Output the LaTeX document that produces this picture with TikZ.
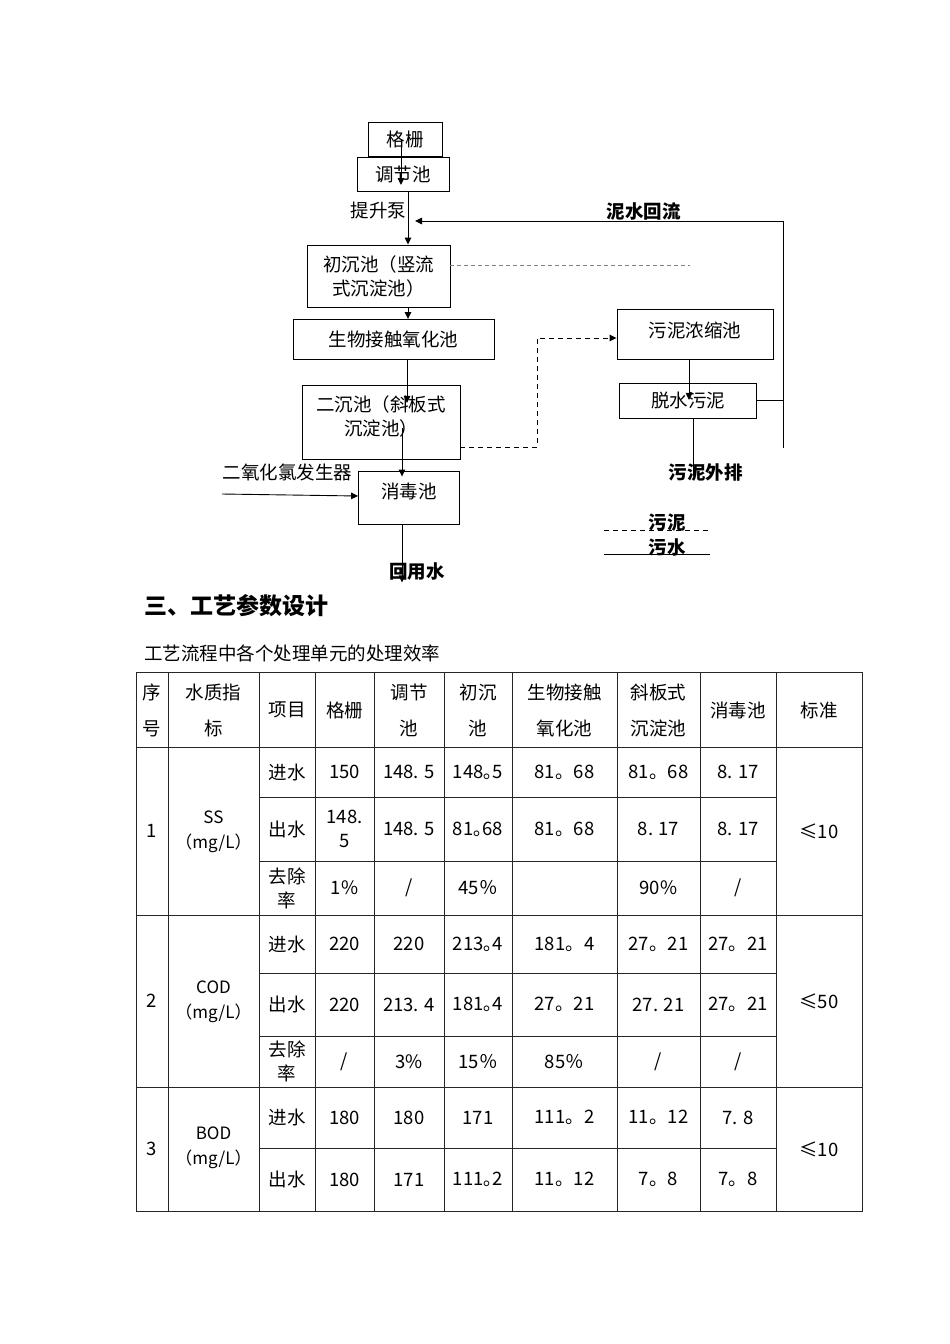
\documentclass[tikz,border=0pt]{standalone}
\usepackage{fontspec}
\setmainfont{Noto Sans CJK SC}
\usetikzlibrary{arrows.meta}

\tikzset{
  every node/.style={font=\fontsize{18.5}{24}\selectfont, inner sep=0pt},
  box/.style={draw, line width=0.9pt},
  arr/.style={line width=0.9pt, -{Triangle[length=7pt,width=6.5pt]}},
  gdash/.style={draw=gray, line width=0.9pt, dash pattern=on 4pt off 3pt},
  bdash/.style={line width=1.1pt, dash pattern=on 5pt off 4pt},
  lbl/.style={font=\bfseries\fontsize{18.5}{24}\selectfont},
  tline/.style={draw=black!85, line width=0.9pt},
  cell/.style={align=center},
  hcell/.style={align=center, font=\fontsize{18.5}{36}\selectfont},
  qcell/.style={align=center, font=\fontsize{17}{25}\selectfont}
}

\begin{document}
\begin{tikzpicture}[x=1pt,y=-1pt]
\useasboundingbox (0,0) rectangle (950,1344);

% process boxes
\node[box, minimum width=74pt, minimum height=34pt] (gs) at (405,139) {格栅};
\node[box, minimum width=92pt, minimum height=34pt] (tj) at (403,174) {调节池};
\node[box, cell, minimum width=143pt, minimum height=62pt] (cc) at (378.5,276) {初沉池（竖流\\式沉淀池）};
\node[box, minimum width=201pt, minimum height=40pt] (sw) at (393.5,339.5) {生物接触氧化池};
\node[box, minimum width=158pt, minimum height=74pt,
      label={[cell, yshift=6pt]center:二沉池（斜板式\\沉淀池）}] (ec) at (381,422) {};
\node[box, minimum width=101pt, minimum height=53pt,
      label={[yshift=6pt]center:消毒池}] (xd) at (409,497.5) {};
\node[box, minimum width=156pt, minimum height=50pt,
      label={[yshift=4pt]center:污泥浓缩池}] (nn) at (695,334.5) {};
\node[box, minimum width=137pt, minimum height=35pt] (dw) at (688,400.5) {脱水污泥};

% labels
\node (tsb) at (378.5,210) {提升泵};
\node[lbl] (nshl) at (643.5,211) {泥水回流};
\node (eyl) at (287.5,472) {二氧化氯发生器};
\node[lbl] (hys) at (417,572) {回用水};
\node[lbl] (wnpc) at (705.5,472) {污泥外排};

% main line
\draw[arr] ([xshift=-4pt]gs.center) -- ([xshift=-2pt,yshift=-11pt]tj.center);
\draw[arr] ([xshift=5pt]tj.south) -- ([xshift=5pt]tj.south |- cc.north);
\draw[arr] ([xshift=29.5pt]cc.south) -- ([xshift=29.5pt]cc.south |- sw.north);
\draw[arr] ([xshift=13.5pt]sw.south) -- ++(0,43);
\draw[arr] ([xshift=21pt,yshift=-6pt]ec.center) -- ([xshift=21pt,yshift=-6pt]ec.center |- xd.north);
\coordinate (eyl-in) at (222,494);
\draw[arr] (eyl-in) -- ([yshift=1.5pt]xd.west);
\draw[arr] ([xshift=-7pt]xd.south) -- ++(0,58);

% sludge line
\coordinate (cce) at (690,265);
\draw[gdash] ([yshift=11pt]cc.east) -- (cce);
\draw[bdash, arr] ([yshift=-25pt]ec.east) -- ++(77,0) |- ([yshift=-3.5pt]nn.west);
\draw[arr] ([xshift=-6pt]nn.south) -- ++(0,40);
\draw ([xshift=5pt]dw.south) -- ++(0,58);

% return flow
\coordinate (rt) at (783,221);
\coordinate (rb) at (783,448);
\coordinate (rin) at (415,221);
\draw[line width=0.9pt] (rb) -- (rt);
\draw[arr] (rt) -- (rin);
\draw[line width=0.9pt] (dw.east) -- (dw.east -| rt);

% legend
\node[lbl] (lgwn) at (667,523) {污泥};
\node[lbl] (lgws) at (667,547) {污水};
\coordinate (lga) at (604,530);
\coordinate (lgb) at (710,530);
\coordinate (lgc) at (604,554);
\coordinate (lgd) at (710,554);
\draw[bdash, line width=0.9pt] (lga) -- (lgb);
\draw[line width=0.9pt] (lgc) -- (lgd);

% section text
\node[anchor=west, font=\bfseries\fontsize{23}{28}\selectfont] (sec) at (144,606) {三、工艺参数设计};
\node[anchor=west] (cap) at (144,653) {工艺流程中各个处理单元的处理效率};

% table grid
\draw[tline] (136,672) rectangle (862,1211);
\foreach \x in {168,259,315,374,444,512,617,700,776}
  \draw[tline] (\x,672) -- (\x,1211);
\foreach \y in {747,915,1087}
  \draw[tline] (136,\y) -- (862,\y);
\foreach \y in {797,861,973,1036,1148}
  \draw[tline] (259,\y) -- (776,\y);

% table head
\foreach \x/\t [count=\i] in {152/{序\\号},213.5/{水质指\\标},287/项目,344.5/格栅,409/{调节\\池},478/{初沉\\池},564.5/{生物接触\\氧化池},658.5/{斜板式\\沉淀池},738/消毒池,819/标准}
  \node[hcell] (hd\i) at (\x,710) {\t};

% SS
\node[cell] (no1) at (152,831) {1};
\node[qcell] (qa1) at (213.5,832) {SS\\（mg/L）};
\node[cell] (st1) at (819,831) {≤10};
\foreach \x/\t [count=\i] in {287/进水,344.5/150,409/148. 5,478/148｡5,564.5/81。68,658.5/81。68,738/8. 17}
  \node[cell] (ssin\i) at (\x,772) {\t};
\foreach \x/\t [count=\i] in {287/出水,344.5/{148.\\5},409/148. 5,478/81｡68,564.5/81。68,658.5/8. 17,738/8. 17}
  \node[cell] (ssout\i) at (\x,829) {\t};
\foreach \x/\t [count=\i] in {287/{去除\\率},344.5/1\%,409/{/},478/45％,658.5/90\%,738/{/}}
  \node[cell] (ssrm\i) at (\x,888) {\t};

% COD
\node[cell] (no2) at (152,1001) {2};
\node[qcell] (qa2) at (213.5,1002) {COD\\（mg/L）};
\node[cell] (st2) at (819,1001) {≤50};
\foreach \x/\t [count=\i] in {287/进水,344.5/220,409/220,478/213｡4,564.5/181。4,658.5/27。21,738/27。21}
  \node[cell] (codin\i) at (\x,944) {\t};
\foreach \x/\t [count=\i] in {287/出水,344.5/220,409/213. 4,478/181｡4,564.5/27。21,658.5/27. 21,738/27。21}
  \node[cell] (codout\i) at (\x,1004.5) {\t};
\foreach \x/\t [count=\i] in {287/{去除\\率},344.5/{/},409/3\%,478/15％,564.5/85％,658.5/{/},738/{/}}
  \node[cell] (codrm\i) at (\x,1061.5) {\t};

% BOD
\node[cell] (no3) at (152,1149) {3};
\node[qcell] (qa3) at (213.5,1148) {BOD\\（mg/L）};
\node[cell] (st3) at (819,1149) {≤10};
\foreach \x/\t [count=\i] in {287/进水,344.5/180,409/180,478/171,564.5/111。2,658.5/11。12,738/7. 8}
  \node[cell] (bodin\i) at (\x,1117.5) {\t};
\foreach \x/\t [count=\i] in {287/出水,344.5/180,409/171,478/111｡2,564.5/11。12,658.5/7。8,738/7。8}
  \node[cell] (bodout\i) at (\x,1179.5) {\t};
\end{tikzpicture}
\end{document}
